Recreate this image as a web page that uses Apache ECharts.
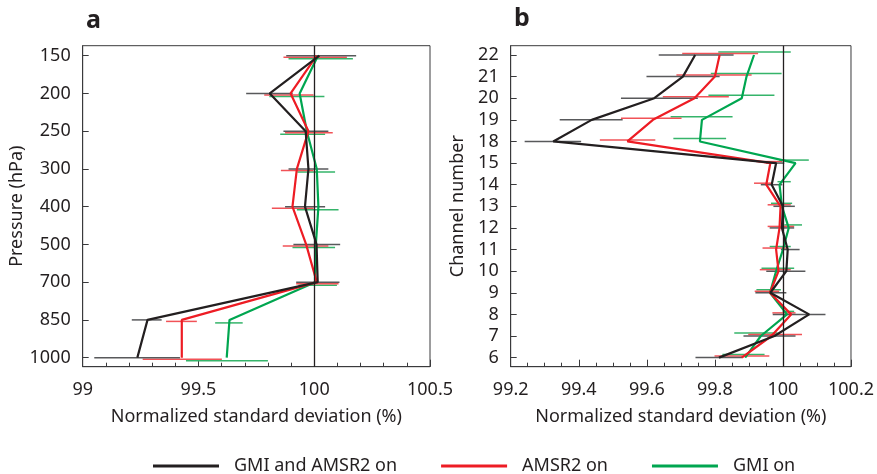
<!DOCTYPE html>
<html>
<head>
<meta charset="utf-8">
<script src="https://cdn.jsdelivr.net/npm/echarts@6/dist/echarts.min.js"></script>
<style>
html,body{margin:0;padding:0;background:#fff;}
#chart{width:877px;height:474px;}
</style>
</head>
<body>
<div id="chart"></div>
<script>
// ---------- Panel a: pressure levels ----------
const pressureLevels = ['150','200','250','300','400','500','700','850','1000'];
const aBoth  = [100.022, 99.808, 99.963, 99.975, 99.960, 100.010, 100.015, 99.280, 99.236];
const aAmsr2 = [100.011, 99.898, 99.975, 99.925, 99.906, 99.965, 100.011, 99.428, 99.428];
const aGmi   = [100.016, 99.937, 99.968, 100.011, 100.018, 100.007, 100.004, 99.634, 99.622];
const aBothLow   = [99.879, 99.706, 99.867, 99.889, 99.874, 99.910, 99.922, 99.212, 99.050];
const aBothHigh  = [100.181, 99.907, 100.061, 100.061, 100.047, 100.112, 100.109, 99.341, 99.420];
const aAmsr2Low  = [99.867, 99.784, 99.874, 99.856, 99.817, 99.864, 99.922, 99.360, 99.259];
const aAmsr2High = [100.141, 99.997, 100.080, 99.997, 99.997, 100.061, 100.105, 99.493, 99.601];
const aGmiLow    = [99.889, 99.806, 99.853, 99.927, 99.925, 99.906, 99.932, 99.572, 99.446];
const aGmiHigh   = [100.167, 100.044, 100.047, 100.090, 100.105, 100.090, 100.098, 99.691, 99.800];
const aXTicks = [99, 99.5, 100, 100.5];

// ---------- Panel b: channels ----------
const channels = ['22','21','20','19','18','15','14','13','12','11','10','9','8','7','6'];
const bBoth  = [99.742, 99.706, 99.622, 99.438, 99.325, 99.980, 99.967, 100.000, 99.997, 100.014, 100.010, 99.963, 100.077, 99.975, 99.812];
const bAmsr2 = [99.814, 99.800, 99.740, 99.618, 99.543, 99.963, 99.951, 99.993, 99.990, 99.980, 99.987, 99.962, 100.024, 99.966, 99.879];
const bGmi   = [99.915, 99.893, 99.879, 99.762, 99.756, 100.037, 99.990, 99.997, 100.017, 100.000, 99.980, 99.962, 100.012, 99.935, 99.889];
const bBothLow   = [99.635, 99.599, 99.524, 99.344, 99.241, 99.951, 99.935, 99.972, 99.961, 99.994, 99.951, 99.919, 99.970, 99.884, 99.743];
const bBothHigh  = [99.855, 99.814, 99.750, 99.529, 99.407, 100.004, 99.998, 100.035, 100.033, 100.049, 100.066, 100.010, 100.125, 100.037, 99.880];
const bAmsr2Low  = [99.704, 99.687, 99.647, 99.524, 99.462, 99.940, 99.915, 99.955, 99.955, 99.940, 99.932, 99.917, 99.969, 99.898, 99.799];
const bAmsr2High = [99.927, 99.908, 99.841, 99.702, 99.625, 99.998, 99.969, 100.023, 100.033, 100.013, 100.023, 99.989, 100.037, 100.056, 99.960];
const bGmiLow    = [99.810, 99.788, 99.781, 99.670, 99.678, 99.989, 99.984, 99.965, 100.004, 99.961, 99.937, 99.922, 99.999, 99.857, 99.822];
const bGmiHigh   = [100.023, 99.996, 99.975, 99.852, 99.833, 100.076, 100.023, 100.027, 100.056, 100.023, 100.033, 99.994, 100.033, 99.984, 99.946];
const bXTicks = [99.2, 99.4, 99.6, 99.8, 100, 100.2];

const seriesNames = ['GMI and AMSR2 on', 'AMSR2 on', 'GMI on'];
const xTitle = 'Normalized standard deviation (%)';

const FONT = 'Noto Sans';
const TXT = '#231f20';
const C_BLACK = '#231f20', C_RED = '#ed1c24', C_GREEN = '#00a650';
const E_BLACK = '#58595b', E_RED = '#f15257', E_GREEN = '#35b46a';

function linePts(vals){ return vals.map((v,i)=>[v,i]); }
function errPts(lo,hi){ return lo.map((v,i)=>[v,hi[i],i]); }

function errSeries(xi, lo, hi, color, dy){
  return {
    type:'custom', xAxisIndex:xi, yAxisIndex:xi, silent:true, z:2,
    encode:{x:[0,1], y:2},
    data: errPts(lo,hi),
    renderItem:function(params, api){
      const p1 = api.coord([api.value(0), api.value(2)]);
      const p2 = api.coord([api.value(1), api.value(2)]);
      return {type:'line', shape:{x1:p1[0], y1:p1[1]+dy, x2:p2[0], y2:p2[1]+dy},
              style:{stroke:color, lineWidth:1.5}};
    }
  };
}
function lineSeries(xi, name, vals, color, z){
  return {
    type:'line', name:name, xAxisIndex:xi, yAxisIndex:xi, data:linePts(vals),
    symbol:'none', z:z, lineStyle:{color:color, width:2.2}, itemStyle:{color:color},
    animation:false
  };
}

function xAxisCfg(gi, min, max, interval, minorSplit){
  return {
    type:'value', gridIndex:gi, min:min, max:max, interval:interval,
    axisLine:{show:true, onZero:false, lineStyle:{color:'#3a3a3c', width:1}},
    axisTick:{show:true, inside:true, length:7, lineStyle:{color:'#3a3a3c'}},
    minorTick:{show:true, splitNumber:minorSplit, length:4, lineStyle:{color:'#3a3a3c'}},
    splitLine:{show:false}, minorSplitLine:{show:false},
    axisLabel:{color:TXT, fontFamily:FONT, fontSize:18, margin:14, showMinLabel:true, showMaxLabel:true},
    name:xTitle, nameLocation:'middle', nameGap:41,
    nameTextStyle:{color:TXT, fontFamily:FONT, fontSize:18}
  };
}
function yAxisCfg(gi, cats, min, max, name, nameGap){
  const idx = cats.map((c,i)=>i);
  return {
    type:'value', gridIndex:gi, inverse:true, min:min, max:max,
    axisLine:{show:true, onZero:false, lineStyle:{color:'#3a3a3c', width:1}},
    axisTick:{show:true, inside:true, length:6, customValues:idx, lineStyle:{color:'#3a3a3c'}},
    axisLabel:{color:TXT, fontFamily:FONT, fontSize:18, margin:12, customValues:idx,
               formatter:function(v){ return cats[Math.round(v)]; }},
    splitLine:{show:false},
    name:name, nameLocation:'middle', nameGap:nameGap, nameRotate:90,
    nameTextStyle:{color:TXT, fontFamily:FONT, fontSize:18}
  };
}

const chart = echarts.init(document.getElementById('chart'), null, {renderer:'canvas'});
const option = {
  animation:false,
  backgroundColor:'#fff',
  textStyle:{fontFamily:FONT},
  grid:[
    {left:82.7, top:45.7, width:347.3, height:321, show:true, borderColor:'#3a3a3c', borderWidth:1, backgroundColor:'transparent'},
    {left:510.7, top:45.7, width:347.6, height:321, show:true, borderColor:'#3a3a3c', borderWidth:1, backgroundColor:'transparent'}
  ],
  xAxis:[ xAxisCfg(0, aXTicks[0], aXTicks[aXTicks.length-1], 0.5, 5),
          xAxisCfg(1, bXTicks[0], bXTicks[bXTicks.length-1], 0.2, 4) ],
  yAxis:[ yAxisCfg(0, pressureLevels, -0.265, 8.24, 'Pressure (hPa)', 56),
          yAxisCfg(1, channels, -0.43, 14.42, 'Channel number', 44) ],
  legend:{
    data:seriesNames, left:148, top:452, itemWidth:66, itemHeight:3, itemGap:44,
    icon:'rect',
    textStyle:{color:TXT, fontFamily:FONT, fontSize:18, padding:[0,0,0,10]}
  },
  graphic:[
    {type:'text', left:86, top:8, style:{text:'a', font:'bold 25px "Noto Sans"', fill:TXT}},
    {type:'text', left:514, top:6, style:{text:'b', font:'bold 25px "Noto Sans"', fill:TXT}}
  ],
  series:[
    errSeries(0, aGmiLow, aGmiHigh, E_GREEN, 3),
    errSeries(0, aAmsr2Low, aAmsr2High, E_RED, 1.5),
    errSeries(0, aBothLow, aBothHigh, E_BLACK, 0),
    lineSeries(0, seriesNames[2], aGmi, C_GREEN, 3),
    lineSeries(0, seriesNames[1], aAmsr2, C_RED, 4),
    Object.assign(lineSeries(0, seriesNames[0], aBoth, C_BLACK, 5), {
      markLine:{silent:true, symbol:['none','none'], label:{show:false},
                lineStyle:{color:'#231f20', width:1.3, type:'solid'}, data:[{xAxis:100}]}
    }),
    errSeries(1, bGmiLow, bGmiHigh, E_GREEN, -3),
    errSeries(1, bAmsr2Low, bAmsr2High, E_RED, -1.5),
    errSeries(1, bBothLow, bBothHigh, E_BLACK, 0),
    lineSeries(1, seriesNames[2], bGmi, C_GREEN, 3),
    lineSeries(1, seriesNames[1], bAmsr2, C_RED, 4),
    Object.assign(lineSeries(1, seriesNames[0], bBoth, C_BLACK, 5), {
      markLine:{silent:true, symbol:['none','none'], label:{show:false},
                lineStyle:{color:'#231f20', width:1.3, type:'solid'}, data:[{xAxis:100}]}
    })
  ]
};
chart.setOption(option);
</script>
</body>
</html>
